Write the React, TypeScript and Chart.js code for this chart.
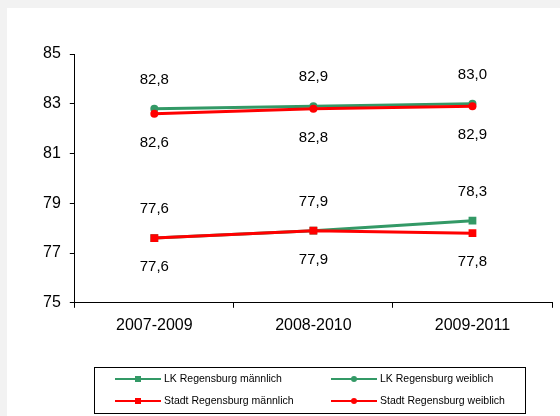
import React, { useEffect, useRef } from 'react';
import { Chart, registerables } from 'chart.js';

Chart.register(...registerables);

const categories = ['2007-2009', '2008-2010', '2009-2011'];
const lkMaennlich = [77.6, 77.9, 78.3];
const lkWeiblich = [82.8, 82.9, 83.0];
const stadtMaennlich = [77.6, 77.9, 77.8];
const stadtWeiblich = [82.6, 82.8, 82.9];
const seriesNames = [
  'LK Regensburg männlich',
  'LK Regensburg weiblich',
  'Stadt Regensburg männlich',
  'Stadt Regensburg weiblich',
];
const yTicks = [75, 77, 79, 81, 83, 85];
const labelSides = ['above', 'above', 'below', 'below'];

const GREEN = '#339966';
const RED = '#ff0000';
const FONT = '"Liberation Sans", Arial, sans-serif';

const fmt = (v: number) => v.toFixed(1).replace('.', ',');

const dataLabelPlugin = {
  id: 'dataLabels',
  afterDatasetsDraw(chart: any) {
    const ctx = chart.ctx;
    ctx.save();
    ctx.font = `15px ${FONT}`;
    ctx.fillStyle = '#000';
    ctx.textAlign = 'center';
    ctx.textBaseline = 'middle';
    chart.data.datasets.forEach((ds: any, i: number) => {
      const meta = chart.getDatasetMeta(i);
      meta.data.forEach((pt: any, j: number) => {
        const dy = labelSides[i] === 'above' ? -29 : 29;
        ctx.fillText(fmt(ds.data[j]), pt.x, pt.y + dy);
      });
    });
    ctx.restore();
  },
};

const legendPlugin = {
  id: 'boxLegend',
  afterDraw(chart: any) {
    const ctx = chart.ctx;
    ctx.save();
    const bx = 87.5, by = 359.5, bw = 431, bh = 46;
    ctx.strokeStyle = '#000';
    ctx.lineWidth = 1;
    ctx.strokeRect(bx, by, bw, bh);
    const cols = [108, 324];
    const rows = [371, 393];
    ctx.font = `10.5px ${FONT}`;
    ctx.textAlign = 'left';
    ctx.textBaseline = 'middle';
    chart.data.datasets.forEach((ds: any, i: number) => {
      const cx = cols[i % 2];
      const cy = rows[Math.floor(i / 2)];
      ctx.strokeStyle = ds.borderColor;
      ctx.lineWidth = 2;
      ctx.beginPath();
      ctx.moveTo(cx, cy);
      ctx.lineTo(cx + 46, cy);
      ctx.stroke();
      ctx.fillStyle = ds.borderColor;
      const mx = cx + 23;
      if (ds.pointStyle === 'rect') {
        ctx.fillRect(mx - 3, cy - 3, 6, 6);
      } else {
        ctx.beginPath();
        ctx.arc(mx, cy, 3, 0, Math.PI * 2);
        ctx.fill();
      }
      ctx.fillStyle = '#000';
      ctx.fillText(ds.label, cx + 49, cy);
    });
    ctx.restore();
  },
};

export default function App() {
  const canvasRef = useRef<HTMLCanvasElement | null>(null);

  useEffect(() => {
    document.body.style.margin = '0';
    document.body.style.background = '#f2f2f2';
    if (!canvasRef.current) return;
    const mk = (label: string, data: number[], color: string, style: string, order: number) => ({
      label,
      data,
      borderColor: color,
      backgroundColor: color,
      borderWidth: 3,
      pointStyle: style,
      pointRadius: style === 'rect' ? 5.5 : 4,
      pointBorderWidth: 0,
      pointBackgroundColor: color,
      tension: 0,
      order,
    });
    const chart = new Chart(canvasRef.current, {
      type: 'line',
      data: {
        labels: categories,
        datasets: [
          mk(seriesNames[0], lkMaennlich, GREEN, 'rect', 2),
          mk(seriesNames[1], lkWeiblich, GREEN, 'circle', 2),
          mk(seriesNames[2], stadtMaennlich, RED, 'rect', 1),
          mk(seriesNames[3], stadtWeiblich, RED, 'circle', 1),
        ] as any,
      },
      options: {
        responsive: false,
        animation: false,
        devicePixelRatio: 1,
        layout: { padding: { left: 27, top: 46, right: 8, bottom: 73 } },
        plugins: {
          legend: { display: false },
          tooltip: { enabled: false },
        },
        scales: {
          x: {
            offset: true,
            grid: {
              display: true,
              offset: true,
              drawOnChartArea: false,
              drawTicks: true,
              tickLength: 5,
              color: '#000',
            },
            border: { display: true, color: '#000', width: 1 },
            ticks: {
              color: '#000',
              font: { family: FONT, size: 16 },
              padding: 8,
              maxRotation: 0,
            },
          },
          y: {
            min: 75,
            max: 85,
            afterBuildTicks: (axis: any) => {
              axis.ticks = yTicks.map((v) => ({ value: v }));
            },
            grid: {
              display: true,
              drawOnChartArea: false,
              drawTicks: true,
              tickLength: 5,
              color: '#000',
            },
            border: { display: true, color: '#000', width: 1 },
            ticks: {
              color: '#000',
              font: { family: FONT, size: 16 },
              padding: 9,
              callback: (v: any) => String(v),
            },
          },
        },
      },
      plugins: [dataLabelPlugin, legendPlugin],
    });
    return () => chart.destroy();
  }, []);

  return (
    <div
      style={{
        position: 'fixed',
        left: 0,
        top: 0,
        width: 560,
        height: 416,
        background: '#f2f2f2',
        overflow: 'hidden',
      }}
    >
      <canvas
        ref={canvasRef}
        width={553}
        height={408}
        style={{ position: 'absolute', left: 7, top: 8, width: 553, height: 408, background: '#fff' }}
      />
    </div>
  );
}
